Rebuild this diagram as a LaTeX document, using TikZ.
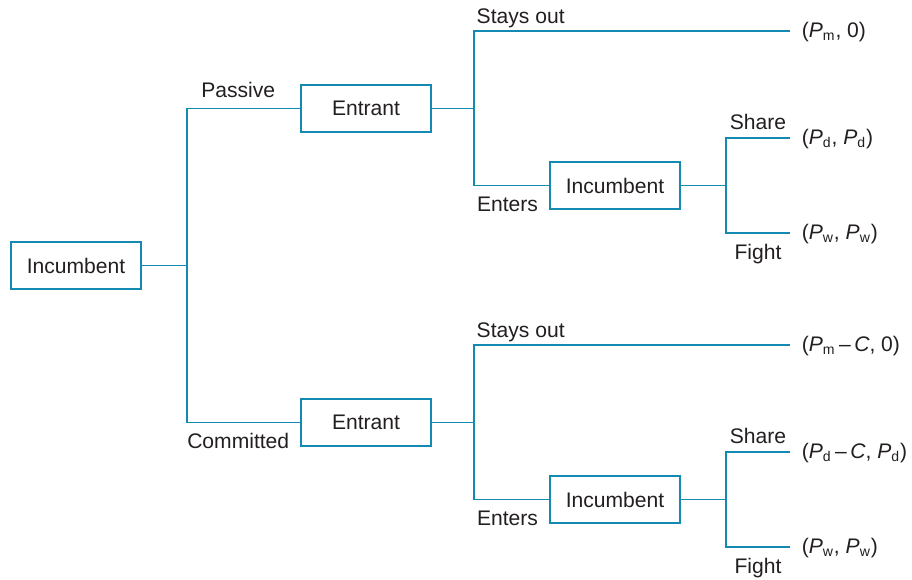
\documentclass[tikz,border=0pt]{standalone}
\usepackage{fontspec}
\setmainfont{Liberation Sans}
\usetikzlibrary{
	positioning,
	calc
}
\definecolor{treeblue}{RGB}{20,138,178}
\definecolor{treeink}{RGB}{35,31,32}
\newcommand{\Psub}[1]{\textit{P}\textsubscript{#1}}

\begin{document}
\begin{tikzpicture}[x=0.02cm, y=-0.02cm, font=\fontsize{12}{14}\selectfont, text=treeink,
	player/.style={draw=treeblue, line width=1.1pt, minimum width=2.6cm, minimum height=0.94cm, inner sep=0pt},
	branch/.style={draw=treeblue, line width=1.1pt},
	payoff/.style={inner sep=0pt, yshift=-.6pt}]

		\useasboundingbox (0,0) rectangle (912,580);

		% first mover
		\node[player] (I0) at (76,265.5) {Incumbent};
		\draw[branch] (I0.east) -- ++(45,0) coordinate (J0);

		\node[player] (E1) at (366,108.5) {Entrant};
		\node[player] (E2) at (366,422.5) {Entrant};

		\draw[branch] (J0) |- node[pos=.75, above=2pt, xshift=-3pt] {Passive} (E1.west);
		\draw[branch] (J0) |- node[pos=.75, below=2pt, xshift=-3pt] {Committed} (E2.west);

		% passive branch
		\node[player] (I1) at (615,185.5) {Incumbent};
		\draw[branch] (E1.east) -- ++(42,0) coordinate (J1);

		\coordinate (L1) at (790,31);
		\draw[branch] (J1) |- node[pos=.5, above right, xshift=-2.3pt, yshift=-2.3pt] {Stays out} (L1);
		\draw[branch] (J1) |- node[pos=.75, below, xshift=-2.3pt, yshift=-2.8pt] {Enters} (I1.west);

		\draw[branch] (I1.east) -- ++(45,0) coordinate (K1);
		\coordinate (L2) at (790,138);
		\coordinate (L3) at (790,233);
		\draw[branch] (K1) |- node[pos=.75, above, yshift=.6pt] {Share} (L2);
		\draw[branch] (K1) |- node[pos=.75, below, yshift=-2.3pt] {Fight} (L3);

		\node[payoff, anchor=west, right=.23cm of L1] (p1) {(\Psub{m}, 0)};
		\node[payoff, anchor=west, right=.23cm of L2] (p2) {(\Psub{d}, \Psub{d})};
		\node[payoff, anchor=west, right=.23cm of L3] (p3) {(\Psub{w}, \Psub{w})};

		% committed branch
		\node[player] (I2) at (615,499.5) {Incumbent};
		\draw[branch] (E2.east) -- ++(42,0) coordinate (J2);

		\coordinate (L4) at (790,345);
		\draw[branch] (J2) |- node[pos=.5, above right, xshift=-2.3pt, yshift=-2.3pt] {Stays out} (L4);
		\draw[branch] (J2) |- node[pos=.75, below, xshift=-2.3pt, yshift=-2.8pt] {Enters} (I2.west);

		\draw[branch] (I2.east) -- ++(45,0) coordinate (K2);
		\coordinate (L5) at (790,452);
		\coordinate (L6) at (790,547);
		\draw[branch] (K2) |- node[pos=.75, above, yshift=.6pt] {Share} (L5);
		\draw[branch] (K2) |- node[pos=.75, below, yshift=-2.3pt] {Fight} (L6);

		\node[payoff, anchor=west, right=.23cm of L4] (p4) {(\Psub{m}\,--\,\textit{C}, 0)};
		\node[payoff, anchor=west, right=.23cm of L5] (p5) {(\Psub{d}\,--\,\textit{C}, \Psub{d})};
		\node[payoff, anchor=west, right=.23cm of L6] (p6) {(\Psub{w}, \Psub{w})};

	\end{tikzpicture}
\end{document}
